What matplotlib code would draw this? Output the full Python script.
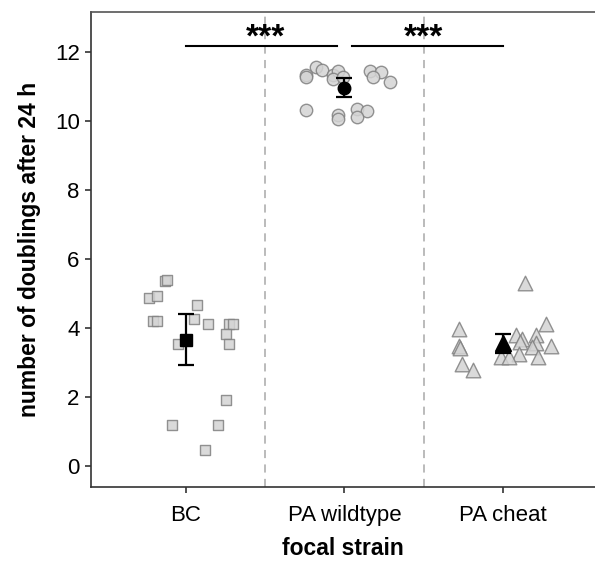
import matplotlib.pyplot as plt
import numpy as np

plt.rcParams["font.family"] = ["Liberation Sans", "DejaVu Sans"]

# ---- data ----
strains = ["BC", "PA wildtype", "PA cheat"]

bc_x = [0.87, 0.88, 0.77, 0.82, 0.79, 0.82, 1.07, 1.05, 1.14, 1.27, 1.30, 1.25, 1.27, 0.95, 1.25, 0.91, 1.20, 1.12]
bc_y = [5.36, 5.38, 4.88, 4.93, 4.21, 4.21, 4.67, 4.27, 4.12, 4.11, 4.12, 3.83, 3.54, 3.54, 1.91, 1.20, 1.18, 0.47]

wt_x = [1.82, 1.86, 1.76, 1.76, 1.93, 1.96, 1.93, 1.99, 2.16, 2.23, 2.18, 2.29, 1.76, 1.96, 1.96, 2.08, 2.14, 2.08]
wt_y = [11.58, 11.48, 11.33, 11.27, 11.33, 11.46, 11.21, 11.28, 11.46, 11.41, 11.27, 11.12, 10.32, 10.17, 10.07, 10.34, 10.29, 10.11]

ch_x = [3.14, 3.27, 2.72, 2.72, 2.73, 2.74, 2.81, 3.08, 3.12, 3.11, 3.21, 3.21, 3.18, 3.30, 3.10, 3.22, 2.99, 3.04]
ch_y = [5.31, 4.12, 3.97, 3.48, 3.42, 2.96, 2.78, 3.80, 3.68, 3.60, 3.80, 3.56, 3.46, 3.48, 3.25, 3.15, 3.17, 3.15]

means = [3.65, 10.97, 3.57]
ci_low = [2.93, 10.69, 3.27]
ci_high = [4.41, 11.24, 3.83]

sig_y = 12.17
sig_labels = ["***", "***"]

# ---- plot ----
fig = plt.figure(figsize=(5.95, 5.62), dpi=100)
ax = fig.add_axes([0.1525, 0.134, 0.8475, 0.8446])

for xv in [1.5, 2.5]:
    ax.axvline(xv, color="#b5b5b5", lw=1.3, ls=(0, (4.5, 3.5)), zorder=0)

pt_style = dict(facecolor="#d4d4d4", edgecolor="#808080", linewidths=1.0, alpha=0.85, zorder=2)
ax.scatter(bc_x, bc_y, marker="s", s=56, **pt_style)
ax.scatter(wt_x, wt_y, marker="o", s=80, **pt_style)
ax.scatter(ch_x, ch_y, marker="^", s=110, **pt_style)

xs = np.arange(1, 4)
yerr = [np.array(means) - np.array(ci_low), np.array(ci_high) - np.array(means)]
ax.errorbar(xs, means, yerr=yerr, fmt="none", ecolor="black", elinewidth=1.6,
            capsize=5.6, capthick=1.6, zorder=3)
for xv, m, mk, ms in zip(xs, means, ["s", "o", "^"], [8.4, 9.0, 11.5]):
    ax.plot(xv, m, marker=mk, ms=ms, color="black", zorder=4)

# significance brackets
ax.plot([1.0, 1.95], [sig_y, sig_y], color="black", lw=1.5)
ax.plot([2.05, 3.0], [sig_y, sig_y], color="black", lw=1.5)
for xv, lab in zip([1.5, 2.5], sig_labels):
    ax.text(xv, 12.17, lab, ha="center", va="baseline", fontsize=24, fontweight="bold")

ax.set_xlim(0.4, 3.58)
ax.set_ylim(-0.6, 13.16)
ax.set_xticks(xs)
ax.set_xticklabels(strains)
ax.set_yticks(np.arange(0, 13, 2))
ax.tick_params(axis="both", labelsize=16, length=4, width=1.2, color="#333333", pad=4)
ax.tick_params(axis="x", pad=9)

ax.spines["right"].set_visible(False)
ax.spines["top"].set_color("#555555")
ax.spines["top"].set_linewidth(1.2)
for sp in ["left", "bottom"]:
    ax.spines[sp].set_color("#333333")
    ax.spines[sp].set_linewidth(1.2)

# small white breaks in the top border at the category positions
top = ax.secondary_xaxis("top")
top.set_xticks(xs)
top.set_xticklabels([])
top.tick_params(length=4, width=2, color="white", direction="inout")
top.spines["top"].set_visible(False)

ax.set_xlabel("focal strain", fontsize=16.5, fontweight="bold", labelpad=8)
ax.set_ylabel("number of doublings after 24 h", fontsize=16.5, fontweight="bold", labelpad=10)

fig.savefig("out.png", dpi=100)
